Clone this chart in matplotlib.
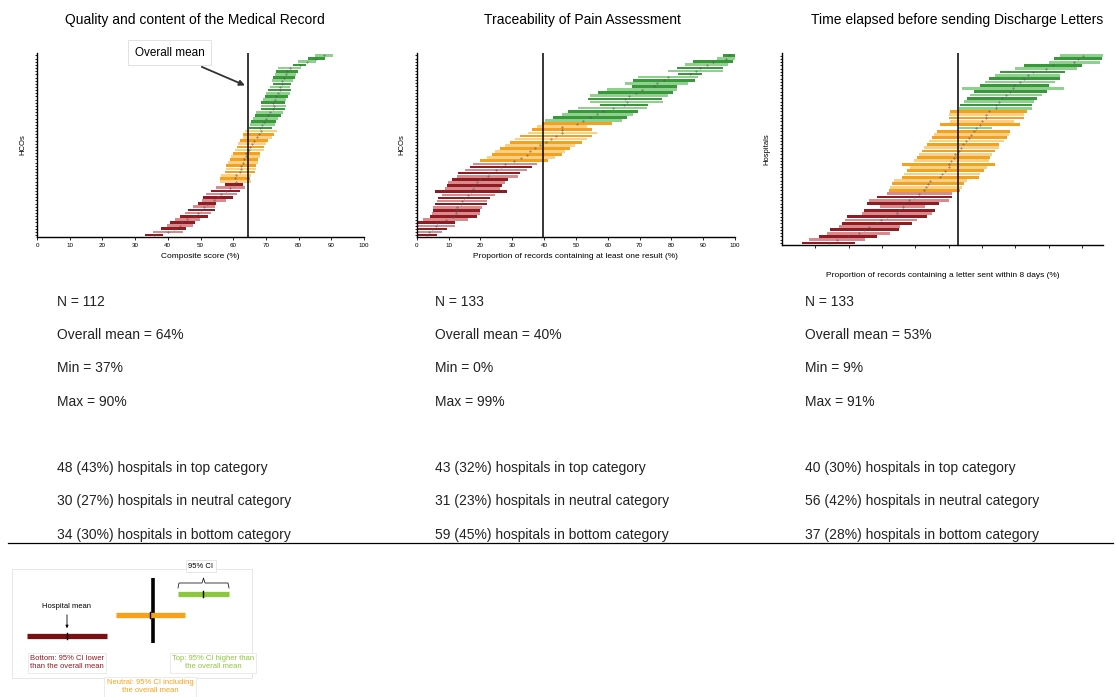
import matplotlib
matplotlib.use("Agg")
import matplotlib.pyplot as plt
from matplotlib.lines import Line2D
from matplotlib.patches import Rectangle
import numpy as np

plt.rcParams['font.family'] = ['Liberation Sans', 'DejaVu Sans']

# Panel 1 - quality of the medical record, 95% CI per hospital, bottom row first
p1_lo = [32.9, 35.5, 38.0, 39.6, 40.6, 42.1, 43.6, 45.2, 46.2, 47.7, 49.2, 50.3, 50.8, 51.8, 53.3, 54.8, 57.4,
         55.9, 55.9, 56.4, 57.4, 57.9, 57.9, 58.4, 58.9, 59.4, 60.0, 60.5, 61.0, 61.5, 62.0, 63.0, 63.0, 63.5,
         64.8, 65.0, 65.5, 66.1, 66.6, 67.1, 68.6, 68.6, 68.6, 69.1, 69.6, 70.1, 70.6, 71.2, 72.2, 71.7, 72.2,
         72.7, 73.2, 73.7, 78.3, 79.8, 82.9, 84.9]
p1_hi = [38.5, 44.6, 45.7, 47.7, 48.2, 49.7, 52.3, 53.3, 54.3, 54.3, 54.8, 57.9, 59.9, 61.0, 62.0, 63.5, 63.0,
         65.5, 65.0, 65.5, 66.6, 67.1, 67.1, 67.6, 67.6, 68.1, 68.1, 69.3, 69.3, 70.1, 70.6, 71.7, 72.5, 73.5,
         71.7, 72.7, 73.2, 73.7, 74.7, 75.2, 75.7, 76.2, 75.7, 76.2, 76.8, 77.3, 77.8, 77.3, 77.8, 78.3, 78.8,
         79.3, 79.8, 80.8, 82.4, 85.4, 88.0, 90.5]
p1_mean = 64.5

# Panel 2 - traceability of pain assessment
p2_lo = [0, 0, 0, 0, 0.5, 2.1, 4.2, 4.7, 5.2, 5.2, 5.8, 6.3, 6.8, 7.9, 5.8, 8.9, 9.4, 9.9, 11.0, 12.6, 13.1,
         15.2, 16.8, 17.8,
         19.9, 22.0, 23.6, 24.6, 26.2, 27.7, 29.3, 30.9, 32.5, 35.1, 36.1, 37.7, 39.3,
         40.3, 42.9, 45.5, 47.6, 50.8, 57.6, 54.5, 53.9, 54.5, 57.1, 59.7, 67.5, 65.4, 68.1, 69.6, 82.2, 79.1,
         81.7, 84.3, 86.9, 94.2, 96.3]
p2_hi = [6.3, 7.9, 9.4, 12.0, 12.0, 16.2, 18.8, 19.9, 19.9, 20.4, 22.0, 22.0, 23.0, 24.6, 28.3, 26.2, 26.7,
         27.7, 28.8, 31.9, 32.5, 34.6, 36.1, 37.7,
         41.4, 43.5, 45.5, 46.6, 48.2, 49.7, 51.8, 53.4, 55.0, 56.5, 55.0, 53.4, 61.3,
         64.4, 66.0, 68.1, 69.6, 72.3, 72.8, 77.5, 77.0, 79.1, 80.6, 81.7, 81.7, 85.3, 87.4, 88.5, 89.5, 96.3,
         96.3, 97.9, 99.5, 100, 100]
p2_mean = 39.6

# Panel 3 - discharge letters
p3_lo = [6, 8, 11, 13.5, 14.5, 17, 18, 19, 19.5, 24, 24.5, 29.5, 25.5, 26, 28.5, 31.5,
         32, 32.5, 33, 33.5, 36, 36.5, 37.5, 38.5, 36, 39.5, 40.5, 41, 42, 42.5, 43.5, 44, 45, 45.5, 46.5,
         53.2, 47.5, 50.5, 50, 50, 50.5,
         53.2, 53.5, 54.5, 55.5, 56.5, 57.5, 54, 59.5, 61, 62, 64, 65.5, 70, 72.5, 80, 81.5, 83.5]
p3_hi = [22, 25, 28.5, 32.5, 35, 35.5, 39, 40.5, 43.5, 45, 46, 43, 47, 50, 51, 51,
         53.5, 54, 54.5, 55.5, 59, 59.5, 60.5, 61.5, 64, 62, 62.5, 63, 64, 65, 65, 66.5, 67.5, 68, 68.5,
         63, 71.5, 69.5, 72.5, 72.5, 73.5,
         75, 75, 75.5, 76.5, 78, 79.5, 84.5, 80, 82, 83.5, 83.5, 85, 88.5, 90, 95.5, 96, 97]
p3_mean = 52.8

titles = ["Quality and content of the Medical Record",
          "Traceability of Pain Assessment",
          "Time elapsed before sending Discharge Letters"]
xlabels = ["Composite score (%)",
           "Proportion of records containing at least one result (%)",
           "Proportion of records containing a letter sent within 8 days (%)"]
ylabels = ["HCOs", "HCOs", "Hospitals"]

stats = [["N = 112", "Overall mean = 64%", "Min = 37%", "Max = 90%"],
         ["N = 133", "Overall mean = 40%", "Min = 0%", "Max = 99%"],
         ["N = 133", "Overall mean = 53%", "Min = 9%", "Max = 91%"]]
cats = [["48 (43%) hospitals in top category", "30 (27%) hospitals in neutral category",
         "34 (30%) hospitals in bottom category"],
        ["43 (32%) hospitals in top category", "31 (23%) hospitals in neutral category",
         "59 (45%) hospitals in bottom category"],
        ["40 (30%) hospitals in top category", "56 (42%) hospitals in neutral category",
         "37 (28%) hospitals in bottom category"]]

colors = {'bottom': ('#8e1c22', '#d98a8c'),
          'neutral': ('#f5a11c', '#f9cf8c'),
          'top': ('#38983a', '#8fd08f')}


def draw_panel(ax, lo, hi, mean, xmax, ticklabels):
    lo = np.array(lo)
    hi = np.array(hi)
    n = len(lo)
    y = np.arange(n)
    for i in y:
        if hi[i] < mean:
            c = 'bottom'
        elif lo[i] > mean:
            c = 'top'
        else:
            c = 'neutral'
        col = colors[c][i % 2]
        ax.barh(i, hi[i] - lo[i], left=lo[i], height=0.85, color=col, linewidth=0)
    ax.plot((lo + hi) / 2, y, '.', color='#555555', ms=0.7)
    ax.axvline(mean, color='black', lw=1.1)
    ax.set_xlim(0, xmax)
    ax.set_ylim(-0.6, n - 0.2)
    for s in ['top', 'right']:
        ax.spines[s].set_visible(False)
    ax.spines['left'].set_linewidth(1.0)
    ax.spines['bottom'].set_linewidth(1.0)
    ax.set_yticks(y)
    ax.set_yticklabels([])
    ax.tick_params(axis='y', length=1.5, width=0.6)
    if ticklabels:
        ax.set_xticks(np.arange(0, 101, 10))
        ax.tick_params(axis='x', labelsize=4.5, length=2, width=0.6, pad=2)
    else:
        ax.set_xticks(np.arange(10, 100, 10))
        ax.set_xticklabels([])
        ax.tick_params(axis='x', length=2, width=0.6)


fig = plt.figure(figsize=(11.16, 6.97), dpi=100)

ax1 = fig.add_axes([0.0332, 0.660, 0.293, 0.264])
ax2 = fig.add_axes([0.3734, 0.660, 0.2852, 0.264])
ax3 = fig.add_axes([0.7007, 0.6485, 0.2876, 0.2755])
draw_panel(ax1, p1_lo, p1_hi, p1_mean, 100, True)
draw_panel(ax2, p2_lo, p2_hi, p2_mean, 100, True)
draw_panel(ax3, p3_lo, p3_hi, p3_mean, 96.3, False)

for ax, t, xl, yl, lp in zip([ax1, ax2, ax3], titles, xlabels, ylabels, [4, 4, 14]):
    ax.set_xlabel(xl, fontsize=6, labelpad=lp)
    ax.set_ylabel(yl, fontsize=5.5, labelpad=3)

fig.text(0.175, 0.972, titles[0], ha='center', va='center', fontsize=10)
fig.text(0.522, 0.972, titles[1], ha='center', va='center', fontsize=10)
fig.text(0.858, 0.972, titles[2], ha='center', va='center', fontsize=10)

# overall mean callout on the first panel
ax1.annotate("Overall mean", xy=(63.6, 47.5), xycoords='data',
             xytext=(40.5, 57.8), textcoords='data', fontsize=8.5, ha='center', va='center',
             bbox=dict(boxstyle='square,pad=0.55', fc='white', ec='#dddddd', lw=0.6),
             arrowprops=dict(arrowstyle='-|>', color='#333333', lw=1.3, mutation_scale=8,
                             shrinkA=2, shrinkB=0))

# summary text under each panel
xs = [57 / 1116, 435 / 1116, 805 / 1116]
stat_y = [302, 335, 368, 402]
cat_y = [468, 501, 535]
for x, st, ct in zip(xs, stats, cats):
    for s, yy in zip(st, stat_y):
        fig.text(x, 1 - yy / 697, s, fontsize=10, va='center', color='#222222')
    for s, yy in zip(ct, cat_y):
        fig.text(x, 1 - yy / 697, s, fontsize=10, va='center', color='#222222')

fig.add_artist(Line2D([8 / 1116, 1113 / 1116], [1 - 543 / 697, 1 - 543 / 697],
                      color='black', lw=0.9, transform=fig.transFigure))

# schematic legend (pixel coords inside its own axes)
lg = fig.add_axes([0, 0, 270 / 1116, 147 / 697])
lg.set_xlim(0, 270)
lg.set_ylim(147, 0)
lg.axis('off')
lg.add_patch(Rectangle((12, 19), 240, 109, fill=False, ec='#e2e2e2', lw=0.6))
lg.plot([153, 153], [28, 93], color='black', lw=2.6, solid_capstyle='butt')
lg.plot([27, 107], [86, 86], color='#7a1014', lw=3.8, solid_capstyle='butt')
lg.plot([116, 185], [65, 65], color='#f7a11a', lw=3.8, solid_capstyle='butt')
lg.plot([178, 229], [44, 44], color='#8dc63f', lw=3.8, solid_capstyle='butt')
for mx, my in [(67, 86), (150, 65), (203, 44)]:
    lg.plot([mx, mx], [my - 3, my + 3], color='black', lw=1.0)
lg.text(67, 57, "Hospital mean", fontsize=5.5, ha='center', va='center')
lg.annotate("", xy=(67, 81), xytext=(67, 62),
            arrowprops=dict(arrowstyle='-|>', color='black', lw=0.6, mutation_scale=4))
lg.text(201, 16, "95% CI", fontsize=5.5, ha='center', va='center',
        bbox=dict(boxstyle='square,pad=0.3', fc='white', ec='#e2e2e2', lw=0.6))
# curly brace over the green bar
bx = [178, 179, 202, 203.5, 205, 228, 229]
by = [38, 33, 33, 28, 33, 33, 38]
lg.plot(bx, by, color='#222222', lw=0.6)
lg.text(67, 113, "Bottom: 95% CI lower\nthan the overall mean", fontsize=5.5, ha='center', va='center',
        color='#8e1c22', linespacing=1.2,
        bbox=dict(boxstyle='square,pad=0.3', fc='white', ec='#e8e8e8', lw=0.6))
lg.text(213, 113, "Top: 95% CI higher than\nthe overall mean", fontsize=5.5, ha='center', va='center',
        color='#8dc63f', linespacing=1.2,
        bbox=dict(boxstyle='square,pad=0.3', fc='white', ec='#e8e8e8', lw=0.6))
lg.text(150, 137, "Neutral: 95% CI including\nthe overall mean", fontsize=5.5, ha='center', va='center',
        color='#f5a11c', linespacing=1.2,
        bbox=dict(boxstyle='square,pad=0.3', fc='white', ec='#e8e8e8', lw=0.6))

fig.savefig("out.png", dpi=100)
